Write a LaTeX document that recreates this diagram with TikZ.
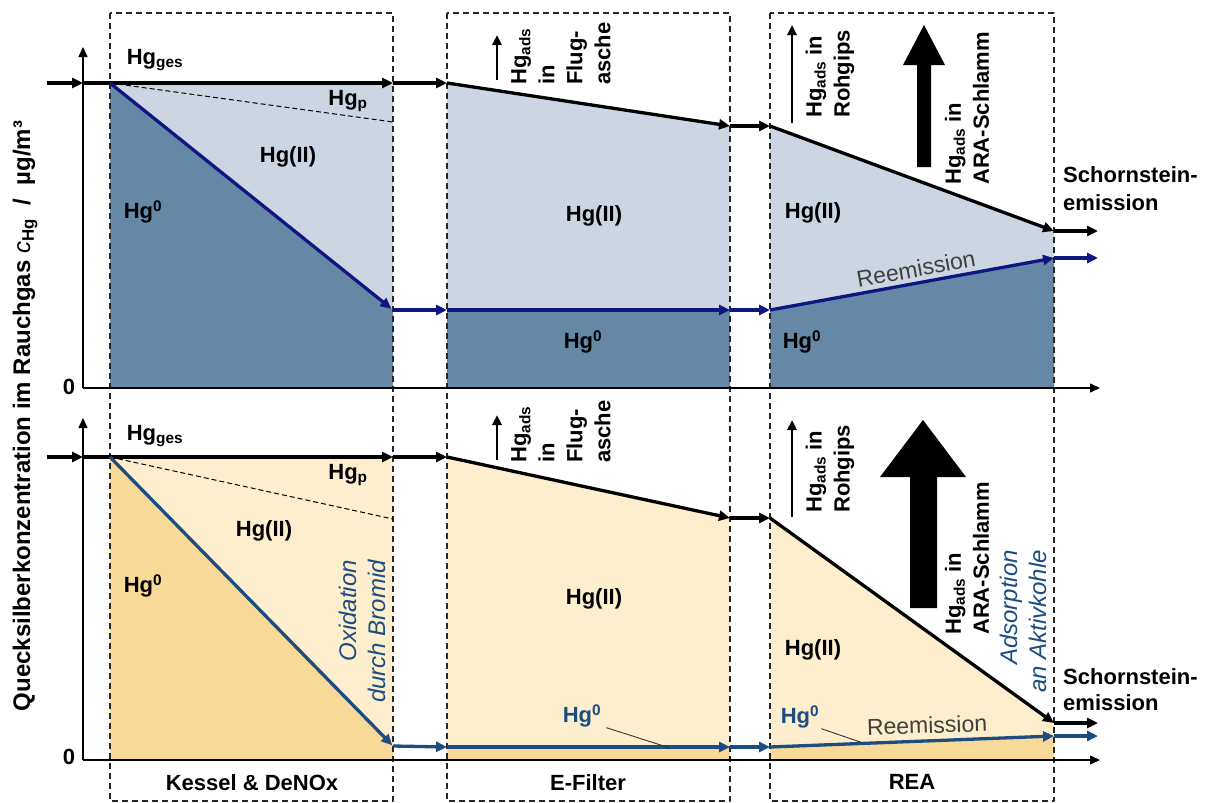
\documentclass[tikz,border=0pt]{standalone}
\usepackage{fontspec}
\setmainfont{Liberation Sans}
\usetikzlibrary{arrows.meta}
\pgfdeclarelayer{background}
\pgfsetlayers{background,main}
\definecolor{uplight}{RGB}{204,214,226}
\definecolor{updark}{RGB}{101,136,166}
\definecolor{upblue}{RGB}{14,22,128}
\definecolor{lowlight}{RGB}{253,238,205}
\definecolor{lowdark}{RGB}{249,217,151}
\definecolor{lowblue}{RGB}{28,76,128}
\definecolor{remgray}{RGB}{64,64,64}
\newcommand{\hgsub}[1]{Hg\textsubscript{#1}}
\newcommand{\hgzero}{Hg\textsuperscript{0}}

\begin{document}
\begin{tikzpicture}[x=1pt,y=-1pt,line join=round]
 % styles
 \tikzstyle{lbl} = [font=\fontsize{22}{28}\selectfont\bfseries,inner sep=0pt];
 \tikzstyle{side} = [lbl,rotate=90,align=left,anchor=west];
 \tikzstyle{note} = [font=\fontsize{24}{29}\selectfont\itshape,text=lowblue,inner sep=0pt,rotate=90,align=right,anchor=east];
 \tikzstyle{remark} = [font=\fontsize{23}{28}\selectfont,text=remgray,inner sep=0pt];
 \tikzstyle{stage} = [draw=black!85,dash pattern=on 6pt off 4pt,line width=1.3pt];
 \tikzstyle{axis} = [line width=1.5pt,-{Triangle[length=10pt,width=9pt]}];
 \tikzstyle{flow} = [line width=3.3pt,-{Triangle[length=11pt,width=10pt]}];
 \tikzstyle{lift} = [line width=2.6pt,-{Triangle[length=10pt,width=9pt]}];
 \tikzstyle{share} = [dash pattern=on 5pt off 3pt,line width=1pt];
 \tikzstyle{pointer} = [line width=0.9pt,black!80];

 \useasboundingbox (0,0) rectangle (1213,803);

 % upper panel points
 \coordinate (Tin) at (47,83);
 \coordinate (Tax) at (83,83);
 \coordinate (T0) at (110,83);
 \coordinate (T1) at (393,83);
 \coordinate (T2) at (447,83);
 \coordinate (T3) at (730,126);
 \coordinate (T4) at (770,126);
 \coordinate (T5) at (1054,231);
 \coordinate (Tout) at (1098,231);
 \coordinate (Tp) at (393,122);
 \coordinate (U1) at (393,310);
 \coordinate (U2) at (447,310);
 \coordinate (U3) at (730,310);
 \coordinate (U4) at (770,310);
 \coordinate (U5) at (1054,258);
 \coordinate (Uout) at (1098,258);
 \coordinate (Tor) at (83,388);
 \coordinate (Ttop) at (83,47);
 \coordinate (Tend) at (1100,388);

 % lower panel points
 \coordinate (Bin) at (47,457);
 \coordinate (Bax) at (83,457);
 \coordinate (B0) at (110,457);
 \coordinate (B1) at (393,457);
 \coordinate (B2) at (447,457);
 \coordinate (B3) at (730,518);
 \coordinate (B4) at (770,518);
 \coordinate (B5) at (1054,723);
 \coordinate (Bout) at (1098,723);
 \coordinate (Bp) at (393,519);
 \coordinate (L1) at (393,746);
 \coordinate (L2) at (447,747);
 \coordinate (L3) at (730,747);
 \coordinate (L4) at (770,747);
 \coordinate (L5) at (1054,736);
 \coordinate (Lout) at (1098,736);
 \coordinate (Bor) at (83,760);
 \coordinate (Btop) at (83,418);
 \coordinate (Bend) at (1100,760);

 \begin{pgfonlayer}{background}
 % areas
 \fill[uplight] (T0) -- (T1) -- (T1 |- Tor) -- (T0 |- Tor) -- cycle;
 \fill[updark] (T0) -- (U1) -- (U1 |- Tor) -- (T0 |- Tor) -- cycle;
 \fill[uplight] (T2) -- (T3) -- (T3 |- Tor) -- (T2 |- Tor) -- cycle;
 \fill[updark] (U2) -- (U3) -- (U3 |- Tor) -- (U2 |- Tor) -- cycle;
 \fill[uplight] (T4) -- (T5) -- (T5 |- Tor) -- (T4 |- Tor) -- cycle;
 \fill[updark] (U4) -- (U5) -- (U5 |- Tor) -- (U4 |- Tor) -- cycle;

 \fill[lowlight] (B0) -- (B1) -- (B1 |- Bor) -- (B0 |- Bor) -- cycle;
 \fill[lowdark] (B0) -- (L1) -- (L1 |- Bor) -- (B0 |- Bor) -- cycle;
 \fill[lowlight] (B2) -- (B3) -- (B3 |- Bor) -- (B2 |- Bor) -- cycle;
 \fill[lowdark] (L2) -- (L3) -- (L3 |- Bor) -- (L2 |- Bor) -- cycle;
 \fill[lowlight] (B4) -- (B5) -- (B5 |- Bor) -- (B4 |- Bor) -- cycle;
 \fill[lowdark] (L4) -- (L5) -- (L5 |- Bor) -- (L4 |- Bor) -- cycle;
 \end{pgfonlayer}

 % stages
 \draw[stage] (110,13) rectangle (393,801);
 \draw[stage] (447,13) rectangle (730,801);
 \draw[stage] (770,13) rectangle (1054,801);

 % axes
 \draw[axis] (Tor) -- (Ttop);
 \draw[axis] (Tor) -- (Tend);
 \draw[axis] (Bor) -- (Btop);
 \draw[axis] (Bor) -- (Bend);

 % upper flows
 \draw[share] (T0) -- (Tp);
 \draw[flow] (Tin) -- (Tax);
 \draw[flow] (Tax) -- (T1);
 \draw[flow] (T1) -- (T2);
 \draw[flow] (T2) -- (T3);
 \draw[flow] (T3) -- (T4);
 \draw[flow] (T4) -- (T5);
 \draw[flow] (T5) -- (Tout);
 \draw[flow,upblue,shorten >=2pt] (T0) -- (U1);
 \draw[flow,upblue] (U1) -- (U2);
 \draw[flow,upblue] (U2) -- (U3);
 \draw[flow,upblue] (U3) -- (U4);
 \draw[flow,upblue] (U4) -- (U5);
 \draw[flow,upblue] (U5) -- (Uout);

 % lower flows
 \draw[share] (B0) -- (Bp);
 \draw[flow] (Bin) -- (Bax);
 \draw[flow] (Bax) -- (B1);
 \draw[flow] (B1) -- (B2);
 \draw[flow] (B2) -- (B3);
 \draw[flow] (B3) -- (B4);
 \draw[flow] (B4) -- (B5);
 \draw[flow] (B5) -- (Bout);
 \draw[flow,lowblue,shorten >=1pt] (B0) -- (L1);
 \draw[flow,lowblue] (L1) -- (L2);
 \draw[flow,lowblue] (L2) -- (L3);
 \draw[flow,lowblue] (L3) -- (L4);
 \draw[flow,lowblue] (L4) -- (L5);
 \draw[flow,lowblue] (L5) -- (Lout);

 % removal arrows
 \coordinate (fa1) at (497,80);  \coordinate (fa2) at (497,35);
 \coordinate (ga1) at (792,123); \coordinate (ga2) at (792,25);
 \coordinate (fb1) at (497,460); \coordinate (fb2) at (497,415);
 \coordinate (gb1) at (792,517); \coordinate (gb2) at (792,420);
 \draw[lift] (fa1) -- (fa2);
 \draw[lift] (ga1) -- (ga2);
 \draw[lift] (fb1) -- (fb2);
 \draw[lift] (gb1) -- (gb2);
 \fill (917,167) -- (917,65) -- (903,65) -- (924,25) -- (945,65) -- (931,65) -- (931,167) -- cycle;
 \fill (910,608) -- (910,477) -- (880,477) -- (923,420) -- (966,477) -- (937,477) -- (937,608) -- cycle;

 % upper labels
 \node[lbl] (tges) at (155,60) {\hgsub{ges}};
 \node[lbl] (tp) at (348,101) {\hgsub{p}};
 \node[lbl] (tox1) at (288,157) {Hg(II)};
 \node[lbl] (tel1) at (143,212) {\hgzero};
 \node[lbl] (tox2) at (594,216) {Hg(II)};
 \node[lbl] (tel2) at (583,342) {\hgzero};
 \node[lbl] (tox3) at (813,213) {Hg(II)};
 \node[lbl] (tel3) at (802,342) {\hgzero};
 \node[side] (tash) at (561,85) {\hgsub{ads}\\in\\Flug-\\asche};
 \node[side] (tgyp) at (830,118) {\hgsub{ads} in\\Rohgips};
 \node[side] (tara) at (967,185) {\hgsub{ads} in\\ARA-Schlamm};
 \node[remark,rotate=10.4] (trem) at (916,269) {Reemission};
 \node[lbl,align=left,anchor=west] (tstack) at (1063,189) {Schornstein-\\emission};
 \node[lbl] (tzero) at (69,387) {0};

 % lower labels
 \node[lbl] (bges) at (155,436) {\hgsub{ges}};
 \node[lbl] (bp) at (348,475) {\hgsub{p}};
 \node[lbl] (box1) at (264,531) {Hg(II)};
 \node[lbl] (bel1) at (143,586) {\hgzero};
 \node[lbl] (box2) at (594,599) {Hg(II)};
 \node[lbl,text=lowblue] (bel2) at (582,716) {\hgzero};
 \node[lbl] (box3) at (813,650) {Hg(II)};
 \node[lbl,text=lowblue] (bel3) at (800,717) {\hgzero};
 \node[side] (bash) at (561,463) {\hgsub{ads}\\in\\Flug-\\asche};
 \node[side] (bgyp) at (830,513) {\hgsub{ads} in\\Rohgips};
 \node[side] (bara) at (967,635) {\hgsub{ads} in\\ARA-Schlamm};
 \node[note] (bbrom) at (362,560) {Oxidation\\durch Bromid};
 \node[note] (bcoal) at (1023,550) {Adsorption\\an Aktivkohle};
 \node[remark,rotate=2] (brem) at (927,725) {Reemission};
 \node[lbl,align=left,anchor=west,font=\fontsize{22}{26}\selectfont\bfseries] (bstack) at (1063,690) {Schornstein-\\emission};
 \node[lbl] (bzero) at (69,757) {0};
 \coordinate (pe2) at (670,748);
 \coordinate (pe3) at (863,743);
 \draw[pointer] ([xshift=5pt]bel2.south east) -- (pe2);
 \draw[pointer] ([xshift=2pt]bel3.south east) -- (pe3);

 % stage names and axis title
 \node[lbl] (kessel) at (252,783) {Kessel \& DeNOx};
 \node[lbl] (efilter) at (588,783) {E-Filter};
 \node[lbl] (rea) at (912,782) {REA};
 \node[lbl,rotate=90,font=\fontsize{24}{28}\selectfont\bfseries] (ytitle) at (25,416)
   {Quecksilberkonzentration im Rauchgas {\mdseries\itshape c}\textsubscript{Hg}\ \ /\ \ µg/m³};
\end{tikzpicture}
\end{document}
